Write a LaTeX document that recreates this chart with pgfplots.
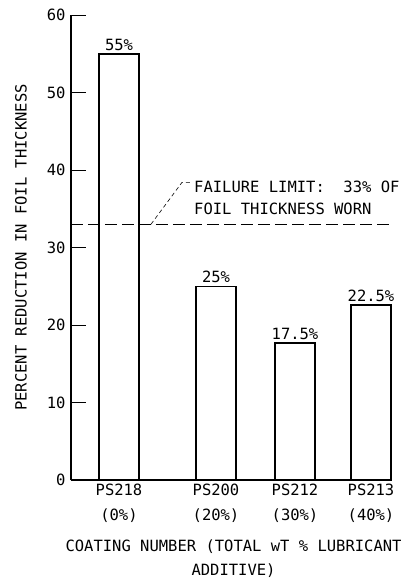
\documentclass[border=0pt]{standalone}
\usepackage{fontspec}
\setmainfont{DejaVu Sans Mono}
\usepackage{pgfplots}
\pgfplotsset{compat=1.18}
\begin{document}
\begin{tikzpicture}[font=\fontsize{15.5}{18}\selectfont]
\begin{axis}[
  scale only axis, width=320pt, height=465pt,
  xmin=71, xmax=391, ymin=0, ymax=60,
  axis x line=bottom, axis y line=left,
  axis line style={-, line width=1.2pt},
  ytick={0,10,...,60},
  tick align=inside, major tick length=15pt,
  y tick style={line width=1pt, black},
  xtick={119,216,295,371},
  xticklabels={{PS218\\(0\%)},{PS200\\(20\%)},{PS212\\(30\%)},{PS213\\(40\%)}},
  x tick style={draw=none},
  xticklabel style={align=center, font=\fontsize{15.5}{25}\selectfont},
  yticklabel style={xshift=-2pt},
  /pgf/number format/assume math mode=true,
  clip=false,
]
\addplot[ybar, bar width=40, draw=black, fill=white, line width=1.5pt,
  point meta=explicit symbolic, nodes near coords,
  every node near coord/.append style={anchor=south, yshift=-1pt}]
  coordinates {(119,55)[55\%] (216,25)[25\%] (295,17.7)[17.5\%] (371,22.6)[22.5\%]};
\addplot[black, line width=0.8pt, dash pattern=on 12pt off 5pt] coordinates {(71,33) (392,33)};
\draw[black, line width=0.6pt, dash pattern=on 4pt off 3pt] (axis cs:151,33) -- (axis cs:182,38.4) -- (axis cs:190,38.4);
\node[anchor=west, align=left, font=\fontsize{15.5}{22}\selectfont, inner sep=0pt] at (axis cs:194,36.4) {FAILURE LIMIT:\ \ 33\% OF\\FOIL THICKNESS WORN};
\node[rotate=90] at (axis description cs:-0.156,0.5) {PERCENT REDUCTION IN FOIL THICKNESS};
\node[align=center, font=\fontsize{15.5}{24}\selectfont] at ([yshift=-79pt]axis description cs:0.508,0) {COATING NUMBER (TOTAL wT \% LUBRICANT\\ADDITIVE)};
\end{axis}
\pgfresetboundingbox
\useasboundingbox (-71pt,-102pt) rectangle (336pt,480pt);
\end{tikzpicture}
\end{document}
